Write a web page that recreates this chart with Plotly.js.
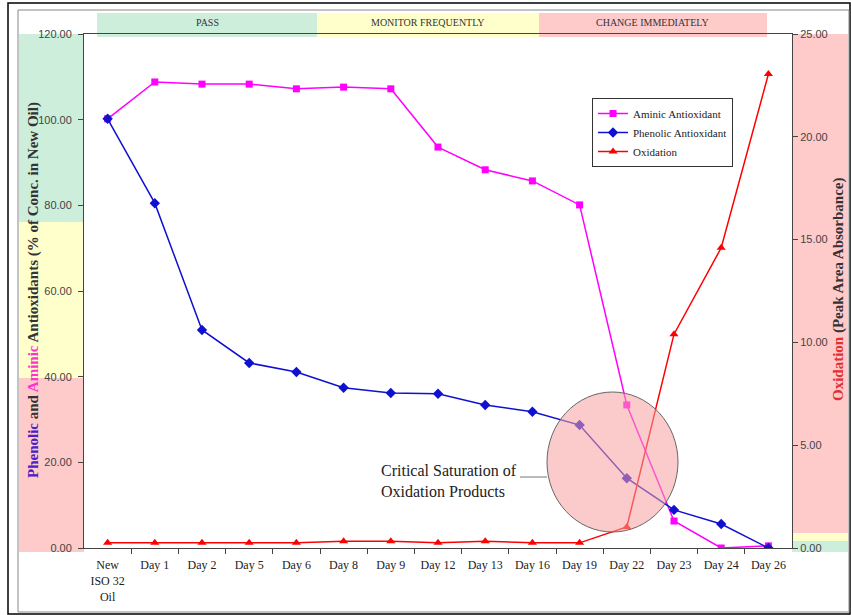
<!DOCTYPE html>
<html><head><meta charset="utf-8">
<script src="https://cdn.plot.ly/plotly-3.0.1.min.js"></script>
<style>html,body{margin:0;padding:0;background:#fff}</style>
</head><body>
<div id="chart" style="width:851px;height:615px"></div>
<script>
const categories = ["New<br>ISO 32<br>Oil","Day 1","Day 2","Day 5","Day 6","Day 8","Day 9","Day 12","Day 13","Day 16","Day 19","Day 22","Day 23","Day 24","Day 26"];
const aminic = [100.2,108.8,108.3,108.3,107.2,107.6,107.2,93.6,88.3,85.7,80.1,33.4,6.3,0.0,0.5];
const phenolic = [100.2,80.5,50.9,43.2,41.1,37.4,36.2,36.0,33.4,31.8,28.7,16.3,8.9,5.6,0.0];
const oxidation = [0.25,0.25,0.25,0.25,0.25,0.33,0.33,0.25,0.33,0.25,0.25,1.02,10.4,14.6,23.05];
const leftTicks = [0,20,40,60,80,100,120];
const rightTicks = [0,5,10,15,20,25];

const xs = categories.map((c,i)=>i);
const serif = "Liberation Serif, Times New Roman, serif";
const sans = "Liberation Sans, Arial, sans-serif";

const traces = [
  {x: xs, y: aminic, name: "Aminic Antioxidant", type: "scatter", mode: "lines+markers",
   line: {color: "#ff00ff", width: 1.5}, marker: {symbol: "square", size: 7, color: "#ff00ff"}},
  {x: xs, y: phenolic, name: "Phenolic Antioxidant", type: "scatter", mode: "lines+markers",
   line: {color: "#1010d0", width: 1.5}, marker: {symbol: "diamond", size: 8, color: "#1010d0"}},
  {x: xs, y: oxidation, name: "Oxidation", type: "scatter", mode: "lines+markers", yaxis: "y2",
   line: {color: "#ff0000", width: 1.5}, marker: {symbol: "triangle-up", size: 8, color: "#ff0000"}}
];

const px = p => (p-84)/708;
const py = p => (548-p)/514;
const GREEN = "#cdeedb", YELLOW = "#ffffcc", PINK = "#ffcaca";

const shapes = [
  {type:"rect", xref:"paper", yref:"paper", x0:px(8), x1:px(850), y0:py(614), y1:py(3), line:{color:"#000", width:1.5}, layer:"below"},
  {type:"rect", xref:"paper", yref:"paper", x0:px(18), x1:px(849), y0:py(612), y1:py(10), line:{color:"#888", width:1}, layer:"below"},
  {type:"rect", xref:"paper", yref:"paper", x0:px(97), x1:px(317), y0:py(37), y1:py(13), fillcolor:GREEN, line:{width:0}, layer:"below"},
  {type:"rect", xref:"paper", yref:"paper", x0:px(317), x1:px(539), y0:py(37), y1:py(13), fillcolor:YELLOW, line:{width:0}, layer:"below"},
  {type:"rect", xref:"paper", yref:"paper", x0:px(539), x1:px(767), y0:py(37), y1:py(13), fillcolor:PINK, line:{width:0}, layer:"below"},
  {type:"rect", xref:"paper", yref:"paper", x0:px(19), x1:px(84), y0:py(222), y1:py(34), fillcolor:GREEN, line:{width:0}, layer:"below"},
  {type:"rect", xref:"paper", yref:"paper", x0:px(19), x1:px(84), y0:py(378), y1:py(222), fillcolor:YELLOW, line:{width:0}, layer:"below"},
  {type:"rect", xref:"paper", yref:"paper", x0:px(19), x1:px(84), y0:py(552), y1:py(378), fillcolor:PINK, line:{width:0}, layer:"below"},
  {type:"rect", xref:"paper", yref:"paper", x0:px(792), x1:px(848), y0:py(533), y1:py(34), fillcolor:PINK, line:{width:0}, layer:"below"},
  {type:"rect", xref:"paper", yref:"paper", x0:px(792), x1:px(848), y0:py(541), y1:py(533), fillcolor:YELLOW, line:{width:0}, layer:"below"},
  {type:"rect", xref:"paper", yref:"paper", x0:px(792), x1:px(848), y0:py(552), y1:py(541), fillcolor:GREEN, line:{width:0}, layer:"below"},
  {type:"circle", xref:"paper", yref:"paper", x0:px(547), x1:px(678), y0:py(532), y1:py(392),
   fillcolor:"rgba(248,160,160,0.55)", line:{color:"#666", width:1}, layer:"above"},
  {type:"line", xref:"paper", yref:"paper", x0:px(520), x1:px(547), y0:py(477), y1:py(477), line:{color:"#777", width:1}}
];

const annotations = [
  {xref:"paper", yref:"paper", x:px(207), y:py(22), xanchor:"center", yanchor:"middle", text:"PASS", showarrow:false, font:{family:serif, size:10, color:"#333"}},
  {xref:"paper", yref:"paper", x:px(428), y:py(22), xanchor:"center", yanchor:"middle", text:"MONITOR FREQUENTLY", showarrow:false, font:{family:serif, size:10, color:"#333"}},
  {xref:"paper", yref:"paper", x:px(652), y:py(22), xanchor:"center", yanchor:"middle", text:"CHANGE IMMEDIATELY", showarrow:false, font:{family:serif, size:10, color:"#333"}},
  {xref:"paper", yref:"paper", x:px(379), y:py(481), xanchor:"left", yanchor:"middle", align:"left",
   text:"Critical Saturation of<br>Oxidation Products", showarrow:false, font:{family:serif, size:16, color:"#222"}},
  {xref:"paper", yref:"paper", x:px(33), y:py(290), xanchor:"center", yanchor:"middle", textangle:-90, showarrow:false,
   text:'<b><span style="color:#4b20c8">Phenolic</span> and <span style="color:#ff33cc">Aminic</span> Antioxidants (% of Conc. in New Oil)</b>',
   font:{family:serif, size:15, color:"#333"}},
  {xref:"paper", yref:"paper", x:px(838), y:py(289), xanchor:"center", yanchor:"middle", textangle:-90, showarrow:false,
   text:'<b><span style="color:#e03030">Oxidation</span> (Peak Area Absorbance)</b>',
   font:{family:serif, size:15, color:"#333"}}
];

const layout = {
  width: 851, height: 615,
  margin: {l:84, r:59, t:34, b:67, pad:0},
  paper_bgcolor: "rgba(0,0,0,0)", plot_bgcolor: "#fff",
  showlegend: true,
  legend: {x:px(592), y:py(98), xanchor:"left", yanchor:"top", bgcolor:"#fff", bordercolor:"#333", borderwidth:1,
           font:{family:serif, size:11, color:"#222"}, tracegroupgap:0, itemwidth:30},
  xaxis: {type:"linear", range:[-0.5,14.5], tickvals:xs, ticktext:categories, showgrid:false, zeroline:false,
          showline:true, linecolor:"#444", linewidth:1, mirror:true, ticks:"", ticklabelstandoff:6,
          tickfont:{family:serif, size:12, color:"#222"}, fixedrange:true},
  xaxis2: {overlaying:"x", range:[-0.5,14.5], tickvals:[0.5,1.5,2.5,3.5,4.5,5.5,6.5,7.5,8.5,9.5,10.5,11.5,12.5,13.5],
           showticklabels:false, ticks:"outside", ticklen:5, tickcolor:"#444", showgrid:false, zeroline:false, showline:false},
  yaxis: {range:[0,120], tickvals:leftTicks, ticktext:leftTicks.map(v=>v.toFixed(2)), showgrid:false, zeroline:false,
          showline:true, linecolor:"#444", linewidth:1, ticks:"outside", ticklen:5, tickcolor:"#444", ticklabelstandoff:4,
          tickfont:{family:sans, size:11, color:"#444"}},
  yaxis2: {range:[0,25], overlaying:"y", side:"right", tickvals:rightTicks, ticktext:rightTicks.map(v=>v.toFixed(2)),
           showgrid:false, zeroline:false, showline:true, linecolor:"#444", linewidth:1, ticks:"outside", ticklen:5,
           tickcolor:"#444", tickfont:{family:sans, size:11, color:"#444"}},
  shapes: shapes, annotations: annotations
};
traces.push({x:[0], y:[0], xaxis:"x2", type:"scatter", mode:"markers", marker:{opacity:0}, showlegend:false, hoverinfo:"skip"});
Plotly.newPlot("chart", traces, layout, {displayModeBar:false, staticPlot:true});
</script>
</body></html>
